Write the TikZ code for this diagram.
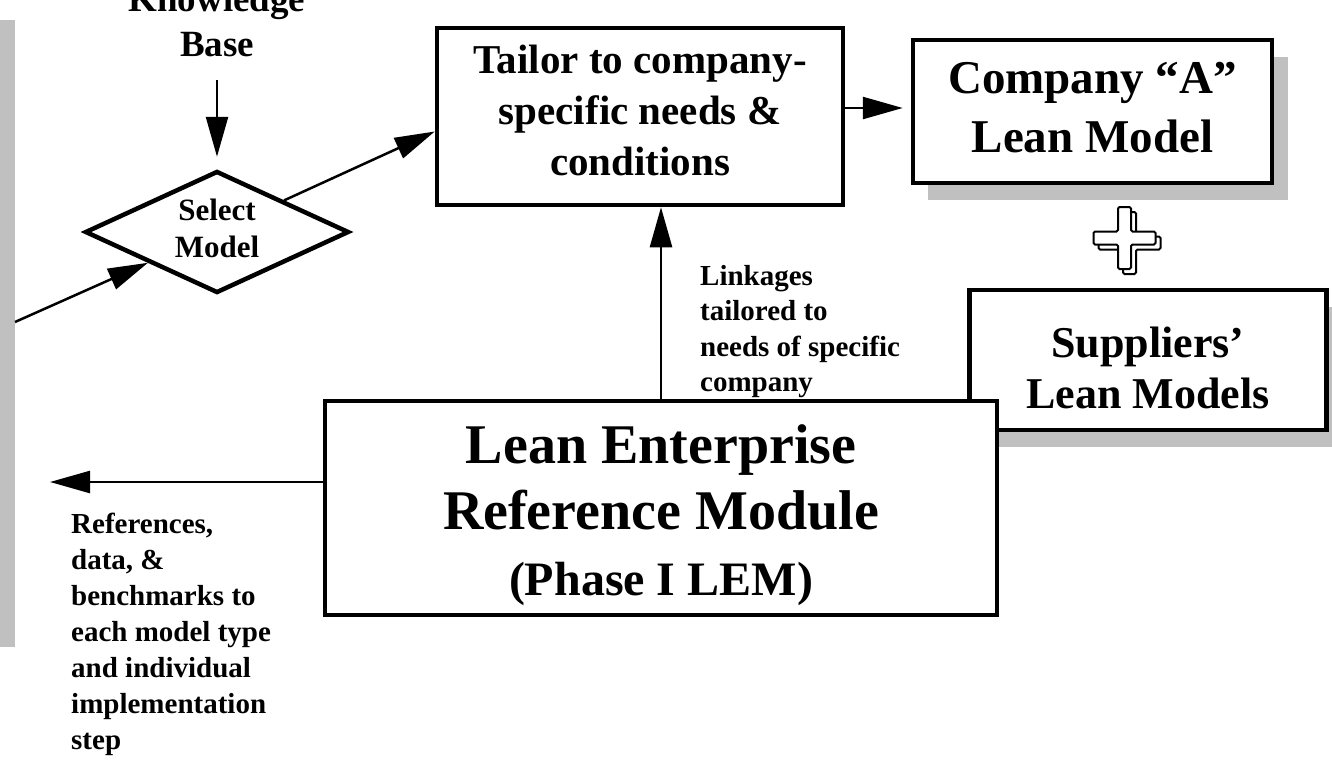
\documentclass[tikz,border=0pt]{standalone}
\usepackage{fontspec}
\setmainfont{Liberation Serif}
\usetikzlibrary{arrows.meta,shapes.geometric,calc}
\definecolor{panelgray}{HTML}{C0C0C0}
\tikzset{
  box/.style={draw, line width=4.5pt, fill=white, inner sep=0pt, align=center},
  arr/.style={line width=2.5pt, -{Triangle[length=40pt,width=22pt]}},
  lbl/.style={inner sep=0pt, text depth=0pt},
  shadowfill/.style={fill=panelgray, draw=none},
  crossline/.style={draw, fill=white, line width=2pt, rounded corners=1.5pt}
}
\begin{document}
\begin{tikzpicture}[x=1pt,y=-1pt]
\useasboundingbox (0,0) rectangle (1332,761);

% grey band on the left
\fill[panelgray] (0,20) rectangle (15,647);

% knowledge base and selection
\node[lbl, align=center, anchor=south, font=\bfseries\fontsize{37}{45}\selectfont] (kb) at (217,57) {Knowledge\\Base};
\node[box, diamond, aspect=2.16, minimum width=264pt, minimum height=122pt, text depth=7pt,
      font=\bfseries\fontsize{31}{37}\selectfont] (sel) at (217,232) {Select\\Model};

% tailoring box
\node[box, minimum width=406pt, minimum height=177pt, text depth=13pt,
      font=\bfseries\fontsize{41}{51}\selectfont] (tail) at (640,116.5) {Tailor to company-\\specific needs \&\\conditions};

% company model with shadow
\fill[shadowfill] (928,57) rectangle (1288,200);
\node[box, minimum width=359pt, minimum height=143pt, text depth=9pt,
      font=\bfseries\fontsize{47}{59}\selectfont] (comp) at (1092.5,111.5) {Company “A”\\Lean Model};

% plus sign (two offset outlines)
\foreach \dx/\dy in {5/5, 0/0} {
  \draw[crossline, shift={(1124.5+\dx,238+\dy)}]
    (-6.5,-31) -- (6.5,-31) -- (6.5,-6.5) -- (31,-6.5) -- (31,6.5) -- (6.5,6.5)
    -- (6.5,31) -- (-6.5,31) -- (-6.5,6.5) -- (-31,6.5) -- (-31,-6.5) -- (-6.5,-6.5) -- cycle;
}

% suppliers model with shadow
\fill[shadowfill] (983,307) rectangle (1340,447);
\node[box, minimum width=357pt, minimum height=140pt, text depth=0pt,
      font=\bfseries\fontsize{44}{51}\selectfont] (supp) at (1148,360) {\rule{0pt}{46pt}Suppliers’\\Lean Models};

% reference module
\node[box, minimum width=672pt, minimum height=214pt,
      font=\bfseries\fontsize{56}{66}\selectfont] (lem) at (661,508)
  {\rule{0pt}{54pt}Lean Enterprise\\Reference Module\\{\fontsize{48}{60}\selectfont (Phase I LEM)}};

% labels
\node[lbl, align=left, anchor=south west, font=\bfseries\fontsize{29}{35.5}\selectfont] (lk) at (700,392)
  {Linkages\\tailored to\\needs of specific\\company};
\node[lbl, align=left, anchor=south west, font=\bfseries\fontsize{29}{36}\selectfont] (refs) at (71,750)
  {References,\\data, \&\\benchmarks to\\each model type\\and individual\\implementation\\step};

% connectors
\coordinate (barpt) at (15,322);
\coordinate (refout) at (50,482);
\draw[arr, shorten >=12pt] ([yshift=-23pt]kb.south) -- (sel.north);
\draw[arr] (barpt) -- (sel);
\draw[arr] (sel.north east) -- ([yshift=-15pt]tail.west);
\draw[arr, shorten >=8pt] ([yshift=8.5pt]tail.east) -- ([yshift=8.5pt]tail.east -| comp.west);
\draw[arr] (lem.north) -- (lem.north |- tail.south);
\draw[arr] (lem.west |- refout) -- (refout);
\end{tikzpicture}
\end{document}
